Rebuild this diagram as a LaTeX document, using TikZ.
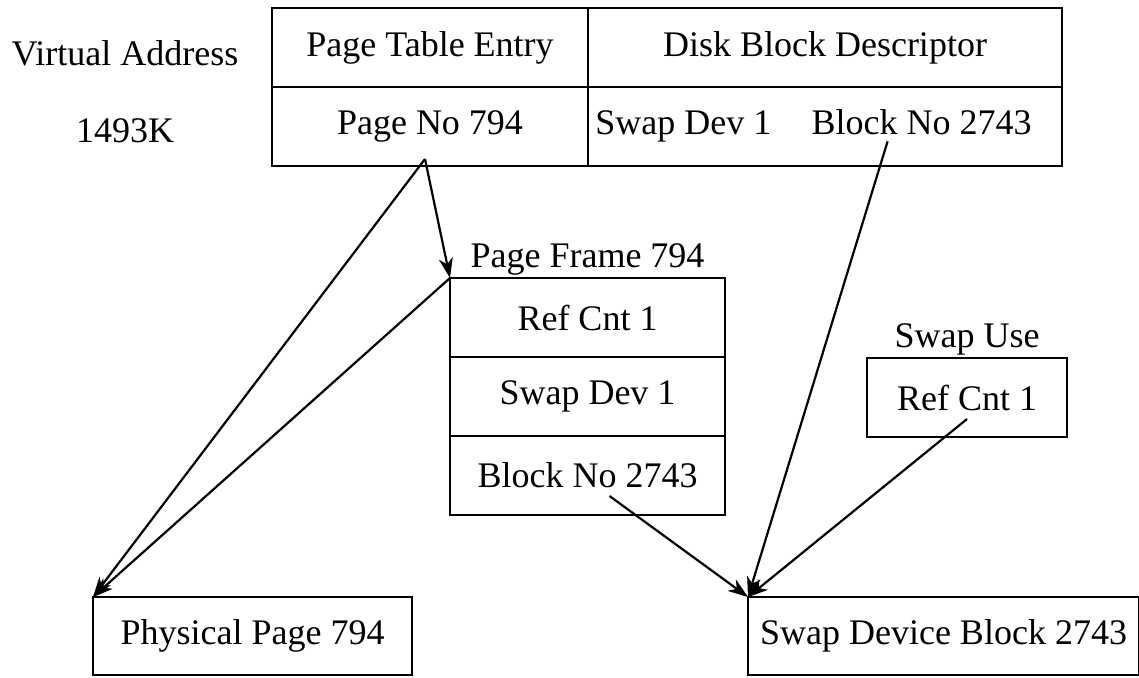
\documentclass[tikz,border=0pt]{standalone}
\usepackage{fontspec}
\setmainfont{Liberation Serif}
\usetikzlibrary{arrows.meta,positioning}
\tikzset{
  cell/.style={draw,line width=1.2pt,inner sep=0pt,outer sep=0pt,minimum height=39.5pt},
  lbl/.style={inner sep=1pt},
  ptr/.style={-{Stealth[length=10pt,width=7pt,inset=3pt]},line width=1.1pt},
}
\begin{document}
\begin{tikzpicture}[x=0.5pt,y=-0.5pt,font=\fontsize{18}{21}\selectfont]
  \useasboundingbox (0,0) rectangle (1139,677);
  % page table entry / disk block descriptor
  \node[cell,minimum width=158pt,anchor=north west] (pte) at (272,8) {Page Table Entry};
  \node[cell,minimum width=237pt,right=0pt of pte] (dbd) {Disk Block Descriptor};
  \node[cell,minimum width=158pt,below=0pt of pte] (pno) {Page No 794};
  \node[cell,minimum width=237pt,below=0pt of dbd] (dsk) {};
  \node[lbl,anchor=base west] (sdev) at ([xshift=2.5pt]pno.base -| dsk.west) {Swap Dev 1};
  \node[lbl,anchor=base east] (blkno) at ([xshift=-14pt]pno.base -| dsk.east) {Block No 2743};
  \node[lbl] (va) at (125,53) {Virtual Address};
  \node[lbl] (vaddr) at (125,131) {1493K};
  % page frame
  \node[cell,minimum width=137.5pt,anchor=north west] (rc) at (450,278) {Ref Cnt 1};
  \node[cell,minimum width=137.5pt,below=0pt of rc] (sd) {Swap Dev 1};
  \node[cell,minimum width=137.5pt,below=0pt of sd] (bn) {Block No 2743};
  \node[lbl,above=0pt of rc] (pf) {Page Frame 794};
  % swap use
  \node[cell,minimum width=100pt,anchor=north west] (su) at (867,358) {Ref Cnt 1};
  \node[lbl,above=0pt of su] (sulbl) {Swap Use};
  % targets
  \node[cell,minimum width=159.5pt,minimum height=39pt,anchor=north west] (pp) at (93,597) {Physical Page 794};
  \node[cell,minimum width=195.5pt,minimum height=39pt,anchor=north west] (sdb) at (748,597) {Swap Device Block 2743};
  % pointers
  \coordinate (pnoout) at ([xshift=-2.5pt,yshift=3.5pt]pno.south);
  \draw[ptr] (pnoout) -- (rc.north west);
  \draw[ptr] (pnoout) -- (pp.north west);
  \draw[ptr] (rc.north west) -- (pp.north west);
  \draw[ptr] ([xshift=11pt,yshift=9.5pt]bn.south) -- (sdb.north west);
  \draw[ptr] ([xshift=-17pt,yshift=-2pt]blkno.south) -- (sdb.north west);
  \draw[ptr] ([yshift=9pt]su.south) -- (sdb.north west);
\end{tikzpicture}
\end{document}
